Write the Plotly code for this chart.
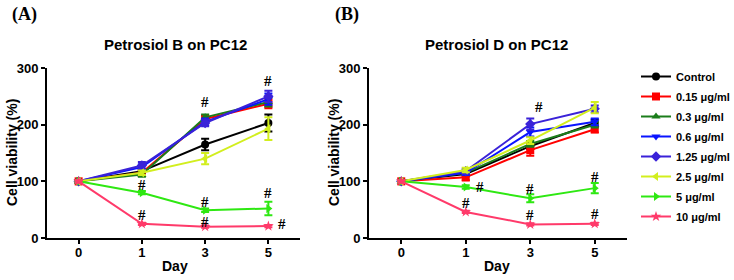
import plotly.graph_objects as go

days = ["0", "1", "3", "5"]
series_names = ["Control", "0.15 μg/ml", "0.3 μg/ml", "0.6 μg/ml", "1.25 μg/ml", "2.5 μg/ml", "5 μg/ml", "10 μg/ml"]
colors = ["#000000", "#ff0000", "#1b7d1b", "#0a14ff", "#3a22d8", "#d2ee1e", "#2ee812", "#ff3a6a"]
symbols = ["circle", "square", "triangle-up", "triangle-down", "diamond", "triangle-left", "triangle-right", "star"]

# Panel A: Petrosiol B
a_control = [100, 118, 165, 203]
a_015 = [100, 115, 210, 237]
a_03 = [100, 112, 213, 240]
a_06 = [100, 125, 205, 245]
a_125 = [100, 128, 203, 250]
a_25 = [100, 115, 140, 193]
a_5 = [100, 80, 49, 52]
a_10 = [100, 25, 20, 21]
a_err = [
    [2, 4, 10, 15],
    [2, 5, 6, 8],
    [2, 4, 5, 8],
    [2, 5, 6, 10],
    [2, 6, 6, 10],
    [2, 4, 10, 20],
    [2, 3, 3, 12],
    [2, 2, 2, 2],
]

# Panel B: Petrosiol D
b_control = [100, 113, 162, 203]
b_015 = [100, 107, 155, 192]
b_03 = [100, 115, 166, 200]
b_06 = [100, 115, 187, 205]
b_125 = [100, 118, 201, 228]
b_25 = [100, 120, 172, 230]
b_5 = [100, 90, 70, 88]
b_10 = [100, 46, 24, 25]
b_err = [
    [2, 4, 5, 6],
    [2, 5, 10, 6],
    [2, 4, 5, 5],
    [2, 4, 8, 6],
    [2, 4, 10, 6],
    [2, 4, 6, 10],
    [2, 3, 7, 9],
    [2, 2, 2, 2],
]

a_vals = [a_control, a_015, a_03, a_06, a_125, a_25, a_5, a_10]
b_vals = [b_control, b_015, b_03, b_06, b_125, b_25, b_5, b_10]

# significance marks (day, value)
a_hash = [("1", 93), ("1", 40), ("3", 240), ("3", 64), ("3", 29), ("5", 277), ("5", 80)]
a_hash_right = [("5", 25)]
b_hash = [("3", 232), ("3", 87), ("3", 40), ("5", 108), ("5", 42), ("1", 62)]
b_hash_right = [("1", 90)]

fig = go.Figure()

for i, name in enumerate(series_names):
    for vals, errs, xa, ya, show in [(a_vals, a_err, "x", "y", True), (b_vals, b_err, "x2", "y2", False)]:
        fig.add_trace(go.Scatter(
            x=days, y=vals[i], xaxis=xa, yaxis=ya,
            mode="lines+markers", name=name, showlegend=show, legendgroup=name,
            line=dict(color=colors[i], width=2),
            marker=dict(symbol=symbols[i], size=8, color=colors[i]),
            error_y=dict(type="data", array=errs[i], color=colors[i], thickness=2, width=4),
            cliponaxis=False,
        ))

ann = []
hash_font = dict(family="Liberation Serif", size=15, color="black")
def idx(d):
    return days.index(d)
for d, v in a_hash:
    ann.append(dict(x=idx(d), y=v, xref="x", yref="y", text="<b>#</b>", showarrow=False, font=hash_font,
                    borderpad=0))
for d, v in a_hash_right:
    ann.append(dict(x=idx(d), y=v, xref="x", yref="y", text="<b>#</b>", showarrow=False, font=hash_font,
                    xshift=14, borderpad=0))
for d, v in b_hash:
    ann.append(dict(x=idx(d), y=v, xref="x2", yref="y2", text="<b>#</b>", showarrow=False, font=hash_font,
                    xshift=9 if (d == "3" and v > 200) else 0, borderpad=0))
for d, v in b_hash_right:
    ann.append(dict(x=idx(d), y=v, xref="x2", yref="y2", text="<b>#</b>", showarrow=False, font=hash_font,
                    xshift=14, borderpad=0))

titlefont = dict(family="Liberation Sans", size=14, color="black", weight="bold")

ann += [
    dict(x=10/734, y=1 - 14/280, xref="paper", yref="paper", text="<b>(A)</b>", showarrow=False,
         xanchor="left", yanchor="middle", font=dict(family="Liberation Serif", size=18, color="black")),
    dict(x=333/734, y=1 - 14/280, xref="paper", yref="paper", text="<b>(B)</b>", showarrow=False,
         xanchor="left", yanchor="middle", font=dict(family="Liberation Serif", size=18, color="black")),
    dict(x=175/734, y=1 - 44/280, xref="paper", yref="paper", text="<b>Petrosiol B on PC12</b>", showarrow=False,
         xanchor="center", yanchor="middle", font=dict(family="Liberation Sans", size=15, color="black")),
    dict(x=497/734, y=1 - 44/280, xref="paper", yref="paper", text="<b>Petrosiol D on PC12</b>", showarrow=False,
         xanchor="center", yanchor="middle", font=dict(family="Liberation Sans", size=15, color="black")),
    dict(x=175/734, y=1 - 266/280, xref="paper", yref="paper", text="Day", showarrow=False,
         xanchor="center", yanchor="middle", font=titlefont),
    dict(x=497/734, y=1 - 266/280, xref="paper", yref="paper", text="Day", showarrow=False,
         xanchor="center", yanchor="middle", font=titlefont),
    dict(x=12/734, y=1 - 153/280, xref="paper", yref="paper", text="Cell viability (%)", showarrow=False,
         textangle=-90, xanchor="center", yanchor="middle", font=titlefont),
    dict(x=334/734, y=1 - 153/280, xref="paper", yref="paper", text="Cell viability (%)", showarrow=False,
         textangle=-90, xanchor="center", yanchor="middle", font=titlefont),
]

tickfont = dict(family="Liberation Sans", size=13, color="black", weight="bold")

def xaxis(domain, anchor):
    return dict(domain=domain, anchor=anchor, type="category", range=[-0.5, 3.5],
                showline=True, linecolor="black", linewidth=2, ticks="outside", ticklen=4,
                tickwidth=2, tickcolor="black", tickfont=tickfont, showgrid=False, zeroline=False,
                ticklabelstandoff=-3, fixedrange=True, automargin=False)

def yaxis(anchor):
    return dict(domain=[42/280, 212/280], anchor=anchor, range=[0, 300], tickvals=[0, 100, 200, 300],
                showline=True, linecolor="black", linewidth=2, ticks="outside", ticklen=4,
                tickwidth=2, tickcolor="black", tickfont=tickfont, showgrid=False, zeroline=False,
                automargin=False)

fig.update_layout(
    width=734, height=280,
    margin=dict(l=0, r=0, t=0, b=0, autoexpand=False),
    paper_bgcolor="white", plot_bgcolor="white",
    xaxis=xaxis([47/734, 300/734], "y"),
    yaxis=yaxis("x"),
    xaxis2=xaxis([369/734, 627/734], "y2"),
    yaxis2=yaxis("x2"),
    annotations=ann,
    showlegend=True,
    legend=dict(x=636/734, y=1 - 62/280, xanchor="left", yanchor="top",
                font=dict(family="Liberation Sans", size=11, color="black", weight="bold"),
                bgcolor="rgba(0,0,0,0)", tracegroupgap=1, itemwidth=30),
)

fig.write_html("out.html", config={"displayModeBar": False},
               post_script="document.body.style.margin='0';document.body.style.padding='0';")
